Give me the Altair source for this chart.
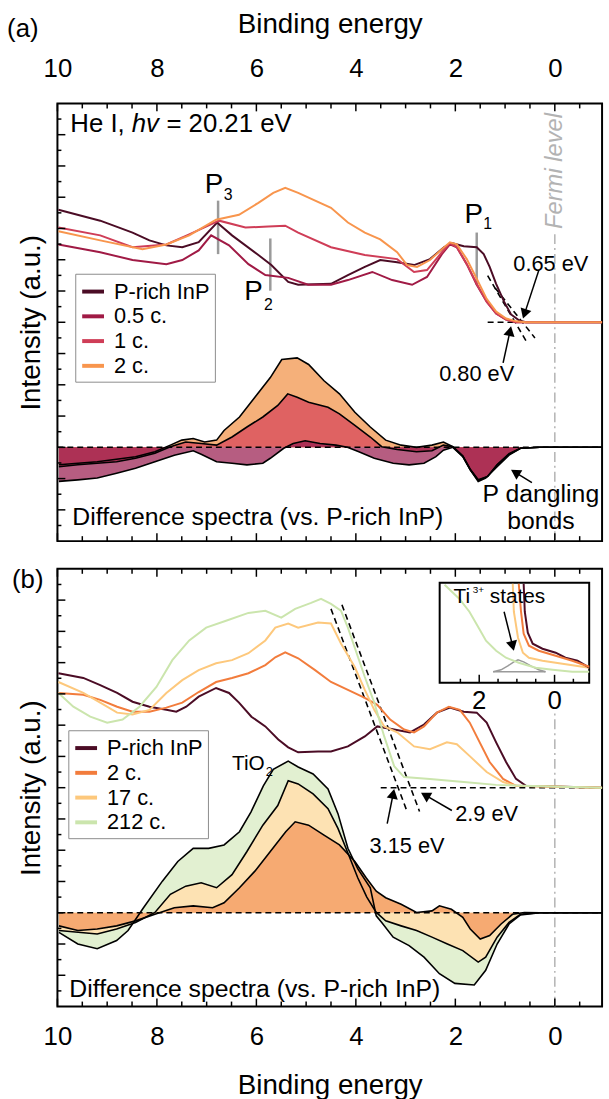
import math
import altair as alt
import pandas as pd

FONT = "Liberation Sans"
W, H = 550, 442
X_DOMAIN = [10, -0.95]
Y_DOMAIN = [0, 14]
SX = W / (X_DOMAIN[0] - X_DOMAIN[1])
SY = H / (Y_DOMAIN[1] - Y_DOMAIN[0])
DIFF_BASE = 3.0

IN_X_DOMAIN = [3.05, -0.92]
IN_X_RANGE = [386, 537]
IN_Y_DOMAIN = [0, 1]
IN_Y_RANGE = [115, 14]
IN_SX = (IN_X_RANGE[1] - IN_X_RANGE[0]) / (IN_X_DOMAIN[0] - IN_X_DOMAIN[1])
IN_SY = (IN_Y_RANGE[0] - IN_Y_RANGE[1]) / (IN_Y_DOMAIN[1] - IN_Y_DOMAIN[0])

# ---------------- tick values ----------------
X_MAJOR = [10, 8, 6, 4, 2, 0]
X_MINOR = [9.5, 9, 8.5, 7.5, 7, 6.5, 5.5, 5, 4.5, 3.5, 3, 2.5, 1.5, 1, 0.5, -0.5]
Y_MAJOR = [1, 2, 3, 4, 5, 6, 7, 8, 9, 10, 11, 12, 13]
Y_MINOR = [0.5, 1.5, 2.5, 3.5, 4.5, 5.5, 6.5, 7.5, 8.5, 9.5, 10.5, 11.5, 12.5, 13.5]
IN_MAJOR = [2, 0]
IN_MINOR = [2.5, 1.5, 1, 0.5, -0.5]

# ---------------- panel (a): He I spectra ----------------
A_NAMES = ["P-rich InP", "0.5 c.", "1 c.", "2 c."]
A_COLORS = ["#4b0c25", "#a01a45", "#cf3d57", "#f8954d"]

A_PR_E = [9.98, 9.14, 8.49, 8.15, 7.81, 7.49, 7.16, 6.79, 6.49, 5.96, 5.70, 5.36, 5.16, 4.50, 4.16,
          3.82, 3.51, 3.17, 2.83, 2.51, 2.23, 2.07, 1.83, 1.57, 1.43, 1.31, 1.18, 1.02, 0.88, 0.72, 0.58, -0.95]
A_PR_I = [10.60, 10.25, 9.87, 9.62, 9.46, 9.40, 9.56, 10.19, 9.78, 9.15, 8.83, 8.29, 8.20, 8.23, 8.51,
          8.77, 8.99, 8.92, 8.83, 9.02, 9.40, 9.53, 9.43, 9.40, 9.18, 8.77, 8.23, 7.66, 7.25, 7.06, 7.00, 7.00]
A_05_E = [9.98, 9.14, 8.49, 7.81, 7.49, 7.16, 6.91, 6.55, 6.16, 5.82, 5.36, 4.96, 4.50, 4.16, 3.67,
          3.27, 2.87, 2.57, 2.27, 2.11, 1.97, 1.77, 1.57, 1.37, 1.18, 0.98, 0.78, -0.95]
A_05_I = [9.49, 9.24, 8.99, 8.86, 8.99, 9.30, 9.78, 9.46, 8.86, 8.51, 8.42, 8.20, 8.20, 8.35, 8.61,
          8.35, 8.20, 8.45, 9.18, 9.49, 9.40, 8.86, 8.20, 7.66, 7.28, 7.09, 7.00, 7.00]
A_1_E = [9.98, 9.14, 8.49, 7.81, 7.35, 6.75, 6.22, 5.76, 5.42, 5.16, 4.50, 3.82, 3.17, 2.83, 2.57,
         2.27, 2.11, 1.97, 1.77, 1.57, 1.37, 1.18, 0.98, 0.78, -0.95]
A_1_I = [10.03, 9.78, 9.40, 9.49, 9.81, 10.25, 10.03, 10.06, 10.09, 9.87, 9.40, 9.15, 9.02, 8.61, 8.67,
         9.24, 9.53, 9.40, 8.86, 8.23, 7.66, 7.28, 7.09, 7.00, 7.00]
A_2_E = [9.98, 9.14, 8.29, 7.81, 7.35, 6.81, 6.35, 5.96, 5.66, 5.42, 5.16, 4.50, 4.16, 3.82, 3.51,
         3.17, 2.97, 2.77, 2.51, 2.27, 2.11, 1.97, 1.77, 1.57, 1.37, 1.18, 0.98, 0.78, 0.58, -0.95]
A_2_I = [9.91, 9.62, 9.34, 9.49, 9.78, 10.28, 10.44, 10.82, 11.14, 11.30, 11.14, 10.66, 10.19, 9.87, 9.65,
         9.24, 8.83, 8.77, 8.99, 9.34, 9.56, 9.49, 9.02, 8.39, 7.75, 7.34, 7.12, 7.03, 7.00, 7.00]

# difference spectra (a)
DA_2_E = [9.97, 9.20, 8.43, 8.04, 7.73, 7.50, 7.27, 7.04, 6.80, 6.65, 6.34, 6.03, 5.72, 5.49, 5.18,
          4.95, 4.64, 4.33, 4.02, 3.71, 3.40, 3.09, 2.78, 2.47, 2.24, 2.05, 1.85, 1.70, 1.54, 1.35,
          1.16, 0.92, 0.69, 0.30, -0.95]
DA_2_I = [2.44, 2.54, 2.70, 2.86, 3.07, 3.23, 3.28, 3.17, 3.23, 3.54, 3.97, 4.60, 5.23, 5.81, 5.86,
          5.65, 5.13, 4.71, 4.12, 3.65, 3.23, 3.07, 3.00, 3.07, 3.17, 3.02, 2.72, 2.30, 1.96, 2.07,
          2.44, 2.80, 2.97, 3.00, 3.00]
DA_1_E = [9.97, 9.59, 9.20, 8.81, 8.43, 8.04, 7.73, 7.42, 7.11, 6.80, 6.49, 6.19, 5.87, 5.57, 5.37,
          5.18, 4.95, 4.56, 4.33, 4.02, 3.71, 3.48, 3.17, 2.78, 2.47, 2.24, 2.05, 1.85, 1.70, 1.54,
          1.35, 1.16, 0.92, 0.69, 0.30, -0.95]
DA_1_I = [2.38, 2.44, 2.49, 2.54, 2.65, 2.81, 3.02, 3.17, 3.12, 3.07, 3.33, 3.65, 3.97, 4.34, 4.71,
          4.60, 4.44, 4.28, 4.07, 3.70, 3.33, 3.02, 2.93, 2.86, 2.89, 3.07, 3.02, 2.72, 2.28, 1.94,
          2.07, 2.44, 2.78, 2.97, 3.00, 3.00]
DA_05_E = [9.97, 9.59, 9.20, 8.81, 8.43, 8.04, 7.65, 7.27, 7.11, 6.80, 6.49, 6.19, 5.87, 5.72, 5.45,
           5.26, 5.02, 4.72, 4.40, 4.17, 3.94, 3.63, 3.25, 2.93, 2.63, 2.39, 2.24, 2.05, 1.85, 1.70,
           1.54, 1.39, 1.16, 0.92, 0.69, 0.30, -0.95]
DA_05_I = [1.91, 1.96, 2.02, 2.17, 2.33, 2.54, 2.75, 2.89, 2.78, 2.54, 2.49, 2.44, 2.49, 2.65, 2.97,
           3.12, 3.21, 3.12, 3.07, 3.00, 2.86, 2.65, 2.49, 2.44, 2.49, 2.70, 2.91, 3.00, 2.70, 2.28,
           1.91, 2.02, 2.38, 2.75, 2.97, 3.00, 3.00]

# ---------------- panel (b): spectra ----------------
B_NAMES = ["P-rich InP", "2 c.", "17 c.", "212 c."]
B_COLORS = ["#4b0c25", "#f27c3c", "#fdc87c", "#cbe5ad"]

B_PR_E = [9.98, 9.48, 9.14, 8.80, 8.49, 8.15, 7.81, 7.61, 7.41, 7.16, 6.81, 6.55, 6.35, 6.10, 5.82,
          5.56, 5.36, 5.16, 4.76, 4.50, 4.16, 3.82, 3.57, 3.23, 2.91, 2.63, 2.37, 2.11, 1.83, 1.57,
          1.37, 1.18, 0.98, 0.78, 0.58, -0.95]
B_PR_I = [10.66, 10.51, 10.28, 10.03, 9.75, 9.59, 9.49, 9.43, 9.59, 9.91, 10.19, 10.03, 9.72, 9.27, 8.96,
          8.54, 8.29, 8.13, 8.16, 8.16, 8.32, 8.64, 8.96, 8.86, 8.77, 9.02, 9.40, 9.56, 9.43, 9.40,
          9.08, 8.45, 7.82, 7.28, 7.06, 7.00]
B_2_E = [9.98, 9.48, 9.14, 8.80, 8.49, 8.15, 7.81, 7.49, 7.16, 6.81, 6.49, 6.16, 5.82, 5.62, 5.42,
         5.16, 4.82, 4.50, 4.16, 3.82, 3.57, 3.31, 3.03, 2.83, 2.63, 2.37, 2.13, 1.91, 1.71, 1.51,
         1.31, 1.04, 0.78, -0.95]
B_2_I = [10.03, 9.97, 9.81, 9.59, 9.43, 9.43, 9.56, 9.72, 10.06, 10.38, 10.51, 10.66, 10.92, 11.17, 11.33,
         11.14, 10.76, 10.38, 10.13, 9.87, 9.65, 9.18, 8.86, 8.77, 8.96, 9.40, 9.59, 9.49, 9.08, 8.45,
         7.82, 7.28, 7.06, 7.00]
B_17_E = [9.98, 9.48, 9.14, 8.80, 8.49, 8.15, 7.81, 7.49, 7.16, 6.81, 6.49, 6.16, 5.82, 5.62, 5.36,
          5.16, 4.76, 4.50, 4.30, 4.02, 3.82, 3.63, 3.43, 3.17, 2.83, 2.51, 2.17, 1.97, 1.71, 1.37,
          1.04, 0.78, -0.95]
B_17_I = [10.38, 10.03, 9.72, 9.40, 9.34, 9.49, 10.03, 10.44, 10.76, 10.98, 11.08, 11.30, 11.71, 12.12, 12.25,
          12.12, 12.28, 12.25, 11.61, 10.85, 10.13, 9.49, 8.96, 8.77, 8.32, 8.23, 8.45, 8.39, 8.01, 7.50,
          7.18, 7.06, 7.00]
B_212_E = [9.98, 9.68, 9.34, 9.00, 8.69, 8.35, 8.01, 7.69, 7.35, 7.01, 6.61, 6.16, 5.82, 5.50, 5.22,
           4.90, 4.70, 4.50, 4.30, 4.16, 3.82, 3.63, 3.43, 3.23, 3.03, 2.51, 1.83, 1.18, 0.64, -0.95]
B_212_I = [10.03, 9.59, 9.27, 9.08, 9.18, 9.59, 10.22, 11.08, 11.71, 12.12, 12.34, 12.59, 12.66, 12.44, 12.72,
           12.91, 13.04, 12.88, 12.66, 12.12, 10.54, 9.72, 8.64, 7.69, 7.34, 7.28, 7.18, 7.09, 7.06, 7.00]

# difference spectra (b)
DB_2_E = [9.97, 9.59, 9.20, 8.81, 8.43, 8.04, 7.65, 7.27, 6.88, 6.65, 6.34, 6.03, 5.72, 5.41, 5.22,
          4.95, 4.64, 4.33, 4.02, 3.79, 3.59, 3.40, 3.09, 2.78, 2.47, 2.32, 2.08, 1.85, 1.70, 1.50,
          1.31, 1.08, 0.85, 0.61, 0.30, -0.95]
DB_2_I = [2.58, 2.43, 2.48, 2.58, 2.74, 2.95, 3.16, 3.22, 3.16, 3.32, 3.80, 4.33, 4.96, 5.59, 5.91,
          5.80, 5.48, 5.17, 4.64, 4.11, 3.69, 3.48, 3.27, 3.01, 3.06, 3.22, 3.11, 2.85, 2.48, 2.16,
          2.27, 2.64, 2.95, 3.01, 3.00, 3.00]
DB_17_E = [9.97, 9.20, 8.81, 8.43, 8.04, 7.73, 7.42, 7.11, 6.80, 6.49, 6.19, 5.87, 5.57, 5.36, 5.16,
           4.86, 4.56, 4.36, 4.16, 3.96, 3.78, 3.59, 3.40, 3.09, 2.78, 2.47, 2.16, 1.85, 1.54, 1.39,
           1.16, 0.92, 0.69, 0.30, -0.95]
DB_17_I = [2.43, 2.32, 2.48, 2.69, 3.01, 3.59, 3.85, 3.96, 3.80, 4.22, 4.96, 5.80, 6.43, 7.22, 7.12,
           6.80, 6.33, 5.70, 4.91, 4.11, 3.50, 3.01, 2.74, 2.58, 2.43, 2.22, 2.00, 1.79, 1.42, 1.58,
           2.22, 2.69, 2.95, 3.00, 3.00]
DB_212_E = [9.97, 9.59, 9.20, 8.81, 8.58, 8.27, 7.89, 7.58, 7.27, 6.96, 6.65, 6.34, 6.11, 5.86, 5.66,
            5.36, 5.16, 4.86, 4.56, 4.36, 4.16, 3.96, 3.71, 3.59, 3.48, 3.25, 2.93, 2.63, 2.32, 2.01,
            1.62, 1.39, 1.16, 0.92, 0.69, 0.30, -0.95]
DB_212_I = [2.37, 2.00, 1.85, 2.11, 2.43, 3.16, 4.01, 4.64, 5.06, 5.06, 5.17, 5.59, 6.22, 7.06, 7.59,
            7.85, 7.66, 7.44, 6.96, 6.17, 5.06, 4.40, 3.80, 2.90, 2.69, 2.22, 1.95, 1.58, 1.05, 0.74,
            0.69, 1.16, 2.00, 2.64, 2.93, 3.00, 3.00]

# ---------------- inset (b): near-edge region ----------------
IN_212_E = [2.92, 2.53, 2.26, 2.00, 1.82, 1.55, 1.29, 0.95, 0.50, 0.05, -0.47, -0.92]
IN_212_I = [0.98, 0.84, 0.71, 0.54, 0.42, 0.32, 0.25, 0.20, 0.15, 0.13, 0.11, 0.11]
IN_17_E = [1.11, 1.08, 0.97, 0.84, 0.68, 0.32, -0.21, -0.92]
IN_17_I = [0.99, 0.71, 0.45, 0.30, 0.25, 0.22, 0.19, 0.15]
IN_2_E = [0.95, 0.89, 0.82, 0.68, 0.42, -0.03, -0.47, -0.92]
IN_2_I = [0.99, 0.71, 0.49, 0.37, 0.32, 0.27, 0.22, 0.16]
IN_PR_E = [0.82, 0.79, 0.71, 0.58, 0.32, -0.03, -0.29, -0.61, -0.92]
IN_PR_I = [0.99, 0.71, 0.50, 0.39, 0.34, 0.30, 0.25, 0.22, 0.15]
TI3_E = [1.63, 1.42, 1.24, 1.08, 0.97, 0.82, 0.63, 0.42, 0.24]
TI3_I = [0.109, 0.129, 0.168, 0.208, 0.228, 0.208, 0.168, 0.129, 0.109]

# ---------------- annotations ----------------
SEG_A = [(10, 3.0, -0.95, 3.0), (1.35, 7.0, -0.95, 7.0), (1.35, 8.49, 0.55, 6.33), (1.20, 8.10, 0.40, 6.50)]
SEG_B = [(10, 3.0, -0.95, 3.0), (3.5, 7.0, -0.95, 7.0), (4.50, 12.72, 2.98, 6.28), (4.28, 12.85, 2.72, 6.24)]
PMARK_A = [(6.77, 10.89, 6.77, 9.18), (5.72, 9.68, 5.72, 8.01), (1.57, 9.87, 1.57, 8.20)]
FERMI_A_TOP = 9.87
FERMI_B_TOP = 9.43
ARROWS_A = [(0.32, 8.67, 0.64, 7.12), (1.04, 5.70, 0.88, 6.87), (0.46, 1.87, 0.88, 2.28)]
ARROWS_B = [(3.37, 5.85, 3.23, 6.96), (2.07, 6.27, 2.69, 6.84)]
ARROWS_IN = [(1.34, 0.71, 1.08, 0.32)]

XS = alt.Scale(domain=X_DOMAIN, nice=False, zero=False)
YS = alt.Scale(domain=Y_DOMAIN, nice=False, zero=False)
IXS = alt.Scale(domain=IN_X_DOMAIN, range=IN_X_RANGE, nice=False, zero=False)
IYS = alt.Scale(domain=IN_Y_DOMAIN, range=IN_Y_RANGE, nice=False, zero=False)


def x_axis(orient, label_pad, title_pad):
    return alt.Axis(orient=orient, values=X_MAJOR, format="d", ticks=False, domain=False, grid=False,
                    labelFont=FONT, labelFontSize=26, labelColor="black", labelPadding=label_pad,
                    labelFlush=False, title="Binding energy", titleFont=FONT, titleFontSize=28,
                    titleFontWeight="normal", titleColor="black", titlePadding=title_pad)


AY = alt.Axis(labels=False, ticks=False, domain=False, grid=False, title="Intensity (a.u.)",
              titleFont=FONT, titleFontSize=28, titleFontWeight="normal", titleColor="black",
              titlePadding=12)


def ex(f, xs, axis=alt.Undefined):
    return alt.X(f"{f}:Q", scale=xs, axis=axis)


def ey(f, ys, axis=alt.Undefined):
    return alt.Y(f"{f}:Q", scale=ys, axis=axis)


def long_df(named):
    rows = []
    for name, es, vs in named:
        for e, v in zip(es, vs):
            rows.append({"E": e, "V": v, "s": name})
    return pd.DataFrame(rows)


def legend(lx, ly):
    return alt.Legend(orient="none", legendX=lx, legendY=ly, title=None, symbolType="stroke",
                      symbolStrokeWidth=4, symbolSize=484, labelFont=FONT, labelFontSize=22,
                      labelColor="black", labelOffset=8, padding=5, rowPadding=1,
                      strokeColor="#8c8c8c", fillColor="white", symbolOpacity=1)


def axis_carrier(df, xaxis):
    # invisible first layer: carries the explicit axes of the panel
    return alt.Chart(df).mark_point(opacity=0, size=1).encode(
        x=ex("E", XS, xaxis), y=ey("V", YS, AY))


def spectra_layer(df, names, colors, leg):
    return alt.Chart(df).mark_line(strokeWidth=2).encode(
        x=ex("E", XS), y=ey("V", YS),
        color=alt.Color("s:N", scale=alt.Scale(domain=names, range=colors), legend=leg))


def area_layer(es, vs, color, opacity=1.0):
    df = pd.DataFrame({"E": es, "V": vs})
    return alt.Chart(df).mark_area(color=color, opacity=opacity).encode(
        x=ex("E", XS), y=ey("V", YS), y2=alt.datum(DIFF_BASE))


def outline_layer(df, xs=XS, ys=YS, color="black", width=1.6, axis=alt.Undefined):
    return alt.Chart(df).mark_line(color=color, strokeWidth=width).encode(
        x=ex("E", xs, axis), y=ey("V", ys, axis), detail="s:N")


def seg_layer(rows, xs, ys, color="black", width=1.6, dash=None):
    df = pd.DataFrame(rows, columns=["x", "y", "x2", "y2"])
    kw = dict(color=color, strokeWidth=width)
    if dash:
        kw["strokeDash"] = dash
    return alt.Chart(df).mark_rule(**kw).encode(
        x=ex("x", xs), y=ey("y", ys), x2=alt.X2("x2"), y2=alt.Y2("y2"))


def text_layer(rows, xs, ys, size, align="left", color="black", style="normal", angle=0, dx=0, dy=0,
               axis=alt.Undefined):
    df = pd.DataFrame(rows, columns=["x", "y", "t"])
    return alt.Chart(df).mark_text(font=FONT, fontSize=size, align=align, baseline="middle",
                                   color=color, fontStyle=style, angle=angle, dx=dx, dy=dy).encode(
        x=ex("x", xs, axis), y=ey("y", ys, axis), text="t:N")


def arrow_layers(rows, xs, ys, sx, sy, size=130, axis=alt.Undefined):
    h = math.sqrt(size) / 2 * math.sqrt(3) / 2
    recs = []
    for (x0, y0, x1, y1) in rows:
        dxp = -(x1 - x0) * sx
        dyp = -(y1 - y0) * sy
        L = math.hypot(dxp, dyp)
        ux, uy = dxp / L, dyp / L
        ang = (math.degrees(math.atan2(ux, -uy)) + 360.0) % 360.0
        recs.append({"x": x0, "y": y0, "hx": x1 + ux * h / sx, "hy": y1 + uy * h / sy, "a": ang})
    df = pd.DataFrame(recs)
    shaft = alt.Chart(df).mark_rule(color="black", strokeWidth=1.5).encode(
        x=ex("x", xs, axis), y=ey("y", ys, axis), x2=alt.X2("hx"), y2=alt.Y2("hy"))
    head = alt.Chart(df).mark_point(shape="triangle-up", filled=True, color="black", size=size,
                                    opacity=1).encode(
        x=ex("hx", xs, axis), y=ey("hy", ys, axis), angle=alt.Angle("a:Q", scale=None))
    return [shaft, head]


def fermi_layer(top):
    df = pd.DataFrame({"x": [0.0], "y": [0.0], "y2": [top]})
    return alt.Chart(df).mark_rule(color="#b3b3b3", strokeWidth=1.5, strokeDash=[10, 4, 2, 4]).encode(
        x=ex("x", XS), y=ey("y", YS), y2=alt.Y2("y2"))


def tick_layers():
    out = []
    for vals, ln in ((X_MAJOR, 8), (X_MINOR, 5)):
        df = pd.DataFrame({"v": vals})
        out.append(alt.Chart(df).mark_rule(color="black", strokeWidth=1.5).encode(
            x=ex("v", XS), y=alt.value(0), y2=alt.value(ln)))
        out.append(alt.Chart(df).mark_rule(color="black", strokeWidth=1.5).encode(
            x=ex("v", XS), y=alt.value(H), y2=alt.value(H - ln)))
    for vals, ln in ((Y_MAJOR, 8), (Y_MINOR, 4)):
        df = pd.DataFrame({"v": vals})
        out.append(alt.Chart(df).mark_rule(color="black", strokeWidth=1.5).encode(
            y=ey("v", YS), x=alt.value(0), x2=alt.value(ln)))
    return out


def corner_label(text, px, py):
    df = pd.DataFrame({"t": [text]})
    return alt.Chart(df).mark_text(font=FONT, fontSize=26, align="center", baseline="middle",
                                   color="black").encode(x=alt.value(px), y=alt.value(py), text="t:N")


# ================= panel (a) =================
spec_a = long_df([(A_NAMES[0], A_PR_E, A_PR_I), (A_NAMES[1], A_05_E, A_05_I),
                  (A_NAMES[2], A_1_E, A_1_I), (A_NAMES[3], A_2_E, A_2_I)])
diff_a = long_df([("2", DA_2_E, DA_2_I), ("1", DA_1_E, DA_1_I), ("05", DA_05_E, DA_05_I)])

layers_a = [
    axis_carrier(spec_a, x_axis("top", 22, 18)),
    area_layer(DA_2_E, DA_2_I, "#f5b07a"),
    area_layer(DA_1_E, DA_1_I, "#df6262"),
    area_layer(DA_05_E, DA_05_I, "#9a1f50", 0.72),
    fermi_layer(FERMI_A_TOP),
    seg_layer(SEG_A, XS, YS, dash=[6, 4]),
    outline_layer(diff_a),
    seg_layer(PMARK_A, XS, YS, color="#9a9a9a", width=2.5),
    spectra_layer(spec_a, A_NAMES, A_COLORS, legend(18, 172)),
    text_layer([(9.74, 13.35, "He I,")], XS, YS, 26),
    text_layer([(9.74, 13.35, "hv")], XS, YS, 26, style="italic", dx=62),
    text_layer([(9.74, 13.35, "= 20.21 eV")], XS, YS, 26, dx=97),
    text_layer([(6.85, 11.39, "P"), (6.06, 7.97, "P"), (1.63, 10.44, "P")], XS, YS, 28, align="center"),
    text_layer([(6.57, 11.08, "3"), (5.76, 7.56, "2"), (1.35, 10.13, "1")], XS, YS, 16, align="center"),
    text_layer([(0.08, 8.86, "0.65 eV"), (1.57, 5.35, "0.80 eV")], XS, YS, 22, align="center"),
    text_layer([(9.70, 0.76, "Difference spectra (vs. P-rich InP)")], XS, YS, 25),
    text_layer([(0.28, 1.49, "P dangling"), (0.28, 0.63, "bonds")], XS, YS, 25, align="center"),
    text_layer([(0.0, 11.84, "Fermi level")], XS, YS, 24, align="center", color="#b3b3b3",
               style="italic", angle=270),
    corner_label("(a)", -35, -75),
]
layers_a += arrow_layers(ARROWS_A, XS, YS, SX, SY)
layers_a += tick_layers()
panel_a = alt.layer(*layers_a)

# ================= panel (b) =================
spec_b = long_df([(B_NAMES[0], B_PR_E, B_PR_I), (B_NAMES[1], B_2_E, B_2_I),
                  (B_NAMES[2], B_17_E, B_17_I), (B_NAMES[3], B_212_E, B_212_I)])
diff_b = long_df([("212", DB_212_E, DB_212_I), ("17", DB_17_E, DB_17_I), ("2", DB_2_E, DB_2_I)])

layers_b = [
    axis_carrier(spec_b, x_axis("bottom", 17, 23)),
    area_layer(DB_212_E, DB_212_I, "#e2f0d1"),
    area_layer(DB_17_E, DB_17_I, "#fde2b3"),
    area_layer(DB_2_E, DB_2_I, "#f6aa72"),
    fermi_layer(FERMI_B_TOP),
    seg_layer(SEG_B, XS, YS, dash=[6, 4]),
    outline_layer(diff_b),
    spectra_layer(spec_b, B_NAMES, B_COLORS, legend(11, 163)),
    text_layer([(6.49, 7.75, "TiO")], XS, YS, 21),
    text_layer([(5.74, 7.50, "2")], XS, YS, 13, align="center"),
    text_layer([(2.97, 5.13, "3.15 eV"), (1.37, 6.17, "2.9 eV")], XS, YS, 22, align="center"),
    text_layer([(9.76, 0.57, "Difference spectra (vs. P-rich InP)")], XS, YS, 25),
    corner_label("(b)", -30, 11),
]
layers_b += arrow_layers(ARROWS_B, XS, YS, SX, SY)
layers_b += tick_layers()
main_b = alt.layer(*layers_b)

# inset (own scales, no axes)
box_df = pd.DataFrame({"x": [IN_X_DOMAIN[0]], "x2": [IN_X_DOMAIN[1]],
                       "y": [IN_Y_DOMAIN[0]], "y2": [IN_Y_DOMAIN[1]]})
inset_box = alt.Chart(box_df).mark_rect(fill="white", stroke="black", strokeWidth=2).encode(
    x=ex("x", IXS, None), x2=alt.X2("x2"), y=ey("y", IYS, None), y2=alt.Y2("y2"))
in_spec = long_df([("212", IN_212_E, IN_212_I), ("17", IN_17_E, IN_17_I),
                   ("PR", IN_PR_E, IN_PR_I), ("2", IN_2_E, IN_2_I)])
in_lines = alt.Chart(in_spec).mark_line(strokeWidth=2).encode(
    x=ex("E", IXS, None), y=ey("V", IYS, None), detail="s:N",
    color=alt.Color("s:N", scale=alt.Scale(domain=["PR", "2", "17", "212"], range=B_COLORS), legend=None))
ti3 = long_df([("g", TI3_E, TI3_I), ("base", [TI3_E[0], TI3_E[-1]], [TI3_I[0], TI3_I[-1]])])
in_ticks = []
for vals, ln in ((IN_MAJOR, 8), (IN_MINOR, 4)):
    df = pd.DataFrame({"v": vals})
    in_ticks.append(alt.Chart(df).mark_rule(color="black", strokeWidth=1.5).encode(
        x=ex("v", IXS, None), y=alt.value(IN_Y_RANGE[0]), y2=alt.value(IN_Y_RANGE[0] - ln)))
inset_layers = [
    inset_box,
    outline_layer(ti3, IXS, IYS, color="#9a9a9a", width=1.5, axis=None),
    in_lines,
    text_layer([(2.68, 0.86, "Ti")], IXS, IYS, 21, axis=None),
    text_layer([(2.17, 0.93, "3+")], IXS, IYS, 10, axis=None),
    text_layer([(1.72, 0.86, "states")], IXS, IYS, 21, axis=None),
    text_layer([(2, -0.18, "2"), (0, -0.18, "0")], IXS, IYS, 26, align="center", axis=None),
] + arrow_layers(ARROWS_IN, IXS, IYS, IN_SX, IN_SY, axis=None) + in_ticks
inset = alt.layer(*inset_layers)

panel_b = alt.layer(main_b, inset).resolve_scale(x="independent", y="independent", color="independent")

chart = alt.vconcat(
    panel_a.properties(width=W, height=H),
    panel_b.properties(width=W, height=H),
    spacing=23,
).resolve_scale(x="independent", y="independent", color="independent").properties(
    padding={"left": 6, "top": 4, "right": 2, "bottom": 0},
    background="white",
).configure(font=FONT).configure_view(stroke="black", strokeWidth=2)

chart.save("out.html", embed_options={"renderer": "svg", "actions": False})
